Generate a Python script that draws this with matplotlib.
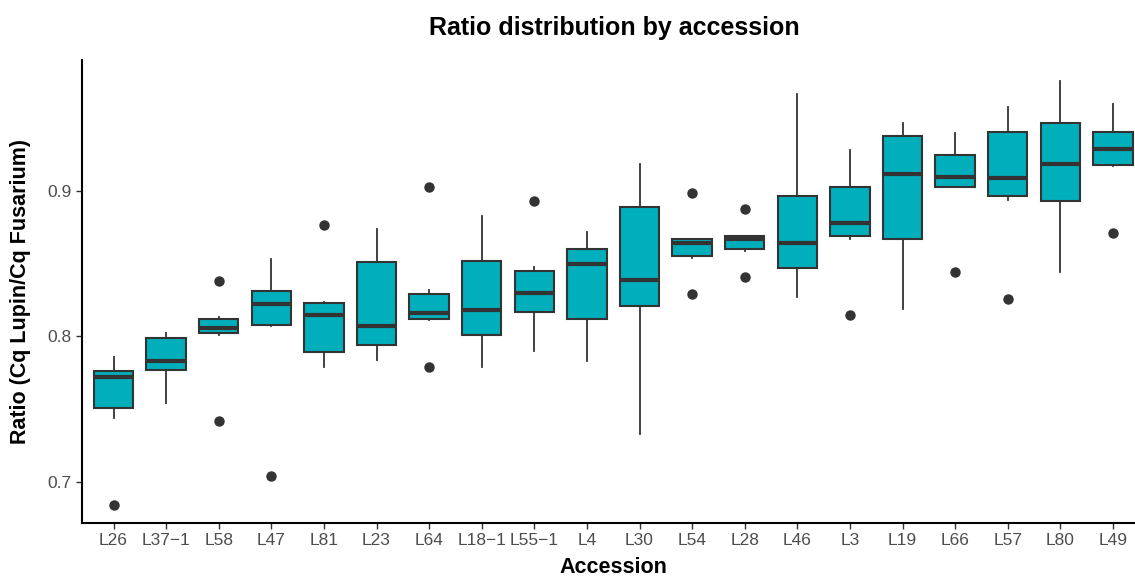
import matplotlib
matplotlib.use('Agg')
import matplotlib.pyplot as plt

plt.rcParams['font.family'] = ['Liberation Sans', 'DejaVu Sans']

# accession order as in the chart
accessions = ['L26', 'L37−1', 'L58', 'L47', 'L81', 'L23', 'L64', 'L18−1', 'L55−1', 'L4',
              'L30', 'L54', 'L28', 'L46', 'L3', 'L19', 'L66', 'L57', 'L80', 'L49']

# box stats
whisker_low = [0.744, 0.754, 0.801, 0.807, 0.779, 0.784, 0.811, 0.779, 0.790, 0.783,
               0.733, 0.854, 0.859, 0.827, 0.867, 0.819, 0.903, 0.894, 0.844, 0.917]
q1 = [0.751, 0.777, 0.802, 0.808, 0.789, 0.794, 0.812, 0.801, 0.817, 0.812,
      0.821, 0.855, 0.860, 0.847, 0.869, 0.867, 0.903, 0.897, 0.893, 0.918]
median = [0.772, 0.783, 0.806, 0.822, 0.815, 0.807, 0.816, 0.818, 0.830, 0.850,
          0.839, 0.864, 0.867, 0.864, 0.878, 0.912, 0.910, 0.909, 0.919, 0.929]
q3 = [0.776, 0.799, 0.812, 0.831, 0.823, 0.851, 0.829, 0.852, 0.845, 0.860,
      0.889, 0.867, 0.869, 0.897, 0.903, 0.938, 0.925, 0.941, 0.947, 0.941]
whisker_high = [0.786, 0.802, 0.813, 0.853, 0.824, 0.874, 0.832, 0.883, 0.848, 0.872,
                0.919, 0.867, 0.869, 0.967, 0.928, 0.947, 0.940, 0.958, 0.976, 0.960]
outliers = [[0.684], [], [0.838, 0.742], [0.704], [0.877], [], [0.903, 0.779], [], [0.893], [],
            [], [0.899, 0.829], [0.888, 0.841], [], [0.815], [], [0.844], [0.826], [], [0.871]]

stats = []
for i in range(len(accessions)):
    stats.append({'label': accessions[i], 'whislo': whisker_low[i], 'q1': q1[i], 'med': median[i],
                  'q3': q3[i], 'whishi': whisker_high[i], 'fliers': outliers[i]})

fig = plt.figure(figsize=(11.35, 5.79), dpi=100)
ax = fig.add_axes([82 / 1135, (579 - 523) / 579, (1144.5 - 82) / 1135, (523 - 60) / 579])

ax.bxp(stats, positions=range(1, len(accessions) + 1), widths=0.75, patch_artist=True,
       showcaps=False,
       boxprops=dict(facecolor='#00AFBB', edgecolor='#333333', linewidth=1.5),
       medianprops=dict(color='#333333', linewidth=3),
       whiskerprops=dict(color='#333333', linewidth=1.3),
       flierprops=dict(marker='o', markerfacecolor='#333333', markeredgecolor='#333333', markersize=6.5))

ax.set_xlim(0.4, len(accessions) + 0.6)
ax.set_ylim(0.6715, 0.9903)
ax.set_yticks([0.7, 0.8, 0.9])
ax.set_yticklabels(['0.7', '0.8', '0.9'])

for side in ['top', 'right']:
    ax.spines[side].set_visible(False)
ax.spines['left'].set_linewidth(1.5)
ax.spines['bottom'].set_linewidth(1.5)
ax.tick_params(axis='both', colors='#333333', labelcolor='#4D4D4D', labelsize=12.5, length=4, width=1)

ax.set_xlabel('Accession', fontsize=15.5, fontweight='bold', labelpad=6)
ax.set_ylabel('Ratio (Cq Lupin/Cq Fusarium)', fontsize=15.5, fontweight='bold', labelpad=12)
fig.text(614 / 1135, 1 - 28 / 579, 'Ratio distribution by accession', fontsize=18,
         fontweight='bold', ha='center', va='center')

fig.savefig('out.png', dpi=100)
